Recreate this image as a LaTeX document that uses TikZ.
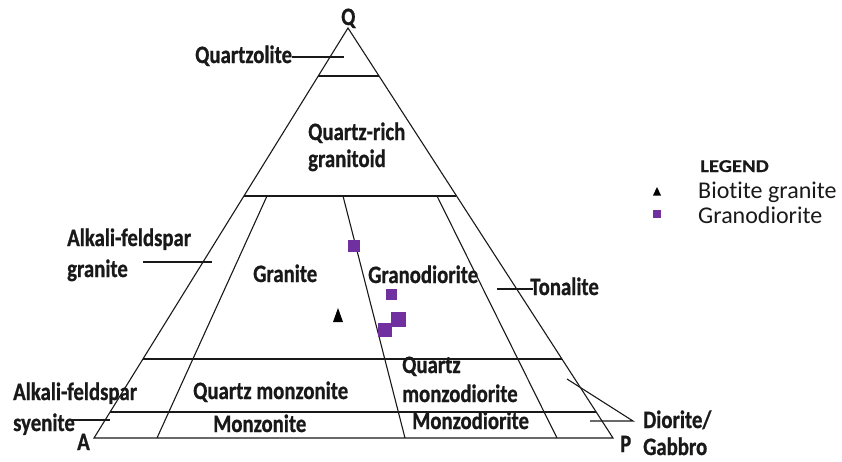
\documentclass[tikz,border=0pt]{standalone}
\usepackage{fontspec}
\newfontfamily\lab[FakeStretch=0.83,Ligatures=CommonOff,BoldFeatures={FakeBold=0.8}]{Carlito}
\newfontfamily\legb[FakeStretch=1.15,Ligatures=CommonOff,BoldFeatures={FakeBold=0.6}]{Carlito}
\newfontfamily\leg[Ligatures=CommonOff]{Carlito}
\definecolor{gdpurple}{RGB}{112,48,160}
\definecolor{ink}{RGB}{25,25,25}
\begin{document}
\begin{tikzpicture}[x=1pt,y=-1pt,
  edge/.style={draw=ink,line width=1.1pt},
  lead/.style={draw=ink,line width=1.1pt},
  lbl/.style={font=\lab\bfseries\fontsize{25}{27}\selectfont,inner sep=0pt,anchor=base west,text=ink},
  legtitle/.style={font=\legb\bfseries\fontsize{18}{20}\selectfont,inner sep=0pt,anchor=base west,text=ink},
  legtxt/.style={font=\leg\fontsize{24}{26}\selectfont,inner sep=0pt,anchor=base west,text=ink},
  gdsq/.style={fill=gdpurple,draw=none},
  bgtri/.style={fill=black,draw=none}]
\useasboundingbox (0,0) rectangle (842,461);
% corners
\coordinate (Q) at (348,28);
\coordinate (A) at (94,438);
\coordinate (P) at (613,438);
% horizontal boundaries
\coordinate (q90l) at (318,76);  \coordinate (q90r) at (379,76);
\coordinate (q60l) at (244,196); \coordinate (q60r) at (456,196);
\coordinate (q20l) at (143,359); \coordinate (q20r) at (562,359);
\coordinate (q5l)  at (110,412); \coordinate (q5r)  at (596,412);
% radial boundaries
\coordinate (r10t) at (267,196); \coordinate (r10b) at (157,438);
\coordinate (r35t) at (343,196); \coordinate (r35b) at (405,438);
\coordinate (r65t) at (437,196); \coordinate (r65b) at (557,438);
% triangle
\draw[edge,line join=miter] (A) -- (Q) -- (P) -- cycle;
\draw[edge] (q90l) -- (q90r);
\draw[edge] (q60l) -- (q60r);
\draw[edge] (q20l) -- (q20r);
\draw[edge] (q5l) -- (q5r);
\draw[edge] (r10t) -- (r10b);
\draw[edge] (r35t) -- (r35b);
\draw[edge] (r65t) -- (r65b);
% leader lines
\coordinate (lqz1) at (292,57);  \coordinate (lqz2) at (344,57);
\coordinate (lafg1) at (143,262); \coordinate (lafg2) at (212,262);
\coordinate (lton1) at (497,289); \coordinate (lton2) at (533,289);
\coordinate (lafs1) at (68,420);  \coordinate (lafs2) at (110,420);
\coordinate (ldg0) at (633,421);
\coordinate (ldg1) at (567,379);  \coordinate (ldg2) at (590,421);
\draw[lead] (lqz1) -- (lqz2);
\draw[lead] (lafg1) -- (lafg2);
\draw[lead] (lton1) -- (lton2);
\draw[lead] (lafs1) -- (lafs2);
\draw[lead] (ldg1) -- (ldg0) -- (ldg2);
% labels
\node[lbl] (tQ) at (341,25) {Q};
\node[lbl] (tA) at (77,450) {A};
\node[lbl] (tP) at (620,452) {P};
\node[lbl] (tqz) at (195,63) {Quartzolite};
\node[lbl] (tqr1) at (308,140) {Quartz-rich};
\node[lbl] (tqr2) at (308,167) {granitoid};
\node[lbl] (tafg1) at (67,246) {Alkali-feldspar};
\node[lbl] (tafg2) at (67,277) {granite};
\node[lbl] (tgr) at (253,282) {Granite};
\node[lbl] (tgd) at (368,283) {Granodiorite};
\node[lbl] (tton) at (530,295) {Tonalite};
\node[lbl] (tafs1) at (13,400) {Alkali-feldspar};
\node[lbl] (tafs2) at (13,431) {syenite};
\node[lbl] (tqm) at (193,399) {Quartz monzonite};
\node[lbl] (tmz) at (213,432) {Monzonite};
\node[lbl] (tqmd1) at (402,373) {Quartz};
\node[lbl] (tqmd2) at (402,402) {monzodiorite};
\node[lbl] (tmd) at (412,429) {Monzodiorite};
\node[lbl] (tdg1) at (643,428) {Diorite/};
\node[lbl] (tdg2) at (643,455) {Gabbro};
% data points
\fill[bgtri] (333,322) -- (338,308) -- (343,322) -- cycle;
\fill[gdsq] (348,240) rectangle (360,252);
\fill[gdsq] (386,289) rectangle (397,300);
\fill[gdsq] (391,312) rectangle (406,327);
\fill[gdsq] (378,323) rectangle (392,337);
% legend
\node[legtitle] (lgt) at (700,172) {LEGEND};
\fill[bgtri] (653,195.5) -- (657,187) -- (661,195.5) -- cycle;
\node[legtxt] (lg1) at (698,198) {Biotite granite};
\fill[gdsq] (653,210) rectangle (661,218);
\node[legtxt] (lg2) at (698,223) {Granodiorite};
\end{tikzpicture}
\end{document}
